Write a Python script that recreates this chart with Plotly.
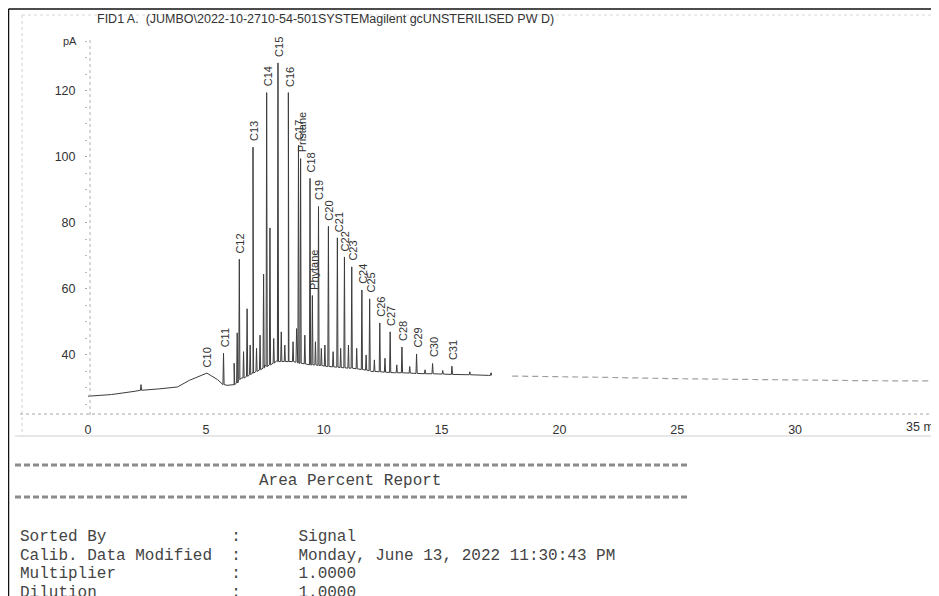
import plotly.graph_objects as go

# ---------------- data ----------------
# baseline (time in min, signal in pA)
base_t = [0, 1, 2, 2.2, 3, 3.8, 4.3, 5.0, 5.5, 5.9, 6.2, 6.5, 7.0, 7.5, 8.0, 8.5, 9.0,
          10, 11, 12, 13, 14, 15, 16, 17, 18, 20, 22, 25, 28, 30, 33, 36.1]
base_v = [27.5, 28, 29, 29.3, 29.7, 30.3, 32.3, 34.5, 32.5, 30.8, 31.0, 33, 35, 37, 38.2, 38, 37.5,
          36.5, 36, 35, 34.6, 34.4, 34.2, 34, 33.8, 33.6, 33.5, 33.2, 32.8, 32.5, 32.3, 32.2, 32.1]

# labelled peaks: name, retention time, apex, foot
lab_names = ["C10", "C11", "C12", "C13", "C14", "C15", "C16", "C17", "Pristane", "C18",
             "Phytane", "C19", "C20", "C21", "C22", "C23", "C24", "C25", "C26", "C27",
             "C28", "C29", "C30", "C31"]
lab_t = [5.02, 5.75, 6.42, 7.00, 7.58, 8.06, 8.50, 8.93, 9.02, 9.42,
         9.52, 9.78, 10.20, 10.58, 10.88, 11.19, 11.62, 11.95, 12.38, 12.82,
         13.32, 13.94, 14.62, 15.44]
lab_apex = [34.5, 40.5, 69, 103, 119.5, 128.5, 119.5, 103.5, 99.5, 93.5,
            58, 85, 79, 75.5, 69.7, 66.7, 59.7, 57, 49.7, 47,
            42.4, 40.3, 37.4, 36.6]
lab_foot = [34.5, 31.0, 32.5, 34.5, 36.5, 38, 38, 37.5, 37.5, 37,
            37, 36.8, 36.5, 36.3, 36.1, 36, 35.6, 35.2, 34.9, 34.7,
            34.6, 34.4, 34.3, 34.1]

# unlabelled peaks: time, apex, foot
minor_t = [2.25, 6.20, 6.33, 6.60, 6.75, 6.88, 7.15, 7.30, 7.45, 7.72, 7.88, 8.20, 8.35,
           8.70, 8.85, 9.20, 9.65, 9.90, 10.05, 10.40, 10.72, 11.05, 11.40, 11.80, 12.15,
           12.60, 13.10, 13.65, 14.30, 15.05, 16.20, 17.10]
minor_apex = [31.0, 37.5, 46.7, 41, 54, 43, 42, 46, 64.5, 78.5, 45, 47, 43,
              44, 48, 46, 44, 42, 43, 41, 42, 43, 42, 40, 38.5,
              39, 37, 36.5, 35.5, 35.3, 34.9, 34.6]
minor_foot = [29.3, 31, 31.5, 33, 33.5, 34, 35, 35.5, 36, 37, 37.5, 38, 38,
              38, 37.8, 37.3, 37, 36.8, 36.6, 36.4, 36.2, 36, 35.8, 35.4, 35,
              34.8, 34.6, 34.5, 34.3, 34.2, 34, 33.8]

x_ticks = [0, 5, 10, 15, 20, 25, 30]
y_ticks = [40, 60, 80, 100, 120]

title_text = "FID1 A.  (JUMBO\\2022-10-2710-54-501SYSTEMagilent gcUNSTERILISED PW D)"
report_title = "Area Percent Report"
report_rows = [("Sorted By", "Signal"),
               ("Calib. Data Modified", "Monday, June 13, 2022 11:30:43 PM"),
               ("Multiplier", "1.0000"),
               ("Dilution", "1.0000")]

# ---------------- layout geometry (page pixels; page body has an 8px margin) ----------------
OFF = 8
W, H = 939 - OFF, 596 - OFF
L, R, T = 88 - OFF, 0, 40 - OFF
B = H - (415 - OFF)
PW, PH = W - L - R, H - T - B
PX_PER_MIN = 23.57
XMAX = PW / PX_PER_MIN
YMIN, YMAX = 21.8, 135.45


def px(x):
    return (min(max(x - OFF, 0.5), W) - L) / PW


def py(y):
    return (H - B - min(max(y - OFF, 0.5), H)) / PH


# ---------------- build trace ----------------
pts = list(zip(base_t, base_v))
w = 0.025
for t, a, f in list(zip(lab_t, lab_apex, lab_foot)) + list(zip(minor_t, minor_apex, minor_foot)):
    pts += [(t - w, f), (t, a), (t + w, f)]
pts.sort(key=lambda p: p[0])
main = [p for p in pts if p[0] <= 17.3]
tail = [p for p in pts if p[0] >= 17.3]

fig = go.Figure()
fig.add_trace(go.Scatter(x=[p[0] for p in main], y=[p[1] for p in main], mode="lines",
                         line=dict(color="#3c3c3c", width=1), hoverinfo="skip"))
fig.add_trace(go.Scatter(x=[p[0] for p in tail], y=[p[1] for p in tail], mode="lines",
                         line=dict(color="#a0a0a0", width=1.2, dash="6px,4px"), hoverinfo="skip"))

sans = "Liberation Sans, Arial"
ann = []
for n, t, a in zip(lab_names, lab_t, lab_apex):
    ann.append(dict(x=t, y=a, xref="x", yref="y", text=n, textangle=-90, showarrow=False,
                    xanchor="center", yanchor="bottom", yshift=4, xshift=1,
                    font=dict(family=sans, size=11, color="#333")))

ann.append(dict(x=px(95), y=py(19), xref="paper", yref="paper", text=title_text, showarrow=False,
                xanchor="left", yanchor="middle", font=dict(family=sans, size=12.5, color="#333")))
ann.append(dict(x=px(79), y=py(41), xref="paper", yref="paper", text="pA", showarrow=False,
                xanchor="right", yanchor="middle", font=dict(family=sans, size=11, color="#333")))
ann.append(dict(x=px(904), y=py(427), xref="paper", yref="paper", text="35 min", showarrow=False,
                xanchor="left", yanchor="middle", font=dict(family=sans, size=12.5, color="#333")))

mono = dict(family="Liberation Mono, Courier New, monospace", size=16, color="#444")
ann.append(dict(x=px(350), y=py(481), xref="paper", yref="paper", text=report_title,
                showarrow=False, xanchor="center", yanchor="middle", font=mono))
for i, (k, v) in enumerate(report_rows):
    s = f"{k:<22}:      {v}".replace(" ", "&nbsp;")
    ann.append(dict(x=px(18), y=py(537 + i * 18.5), xref="paper", yref="paper", text=s,
                    showarrow=False, xanchor="left", yanchor="middle", font=mono))

shapes = [
    # outer frame (black)
    dict(type="line", xref="paper", yref="paper", x0=px(6), x1=px(939), y0=py(9), y1=py(9),
         line=dict(color="#111", width=1.5)),
    dict(type="line", xref="paper", yref="paper", x0=px(6), x1=px(6), y0=py(9), y1=py(596),
         line=dict(color="#111", width=1.5)),
    # faint inner scan frame
    dict(type="line", xref="paper", yref="paper", x0=px(22), x1=px(22), y0=py(15), y1=py(436),
         line=dict(color="#d0d0d0", width=1, dash="dot")),
    dict(type="line", xref="paper", yref="paper", x0=px(22), x1=px(939), y0=py(15), y1=py(15),
         line=dict(color="#d8d8d8", width=1, dash="dot")),
    dict(type="line", xref="paper", yref="paper", x0=px(15), x1=px(939), y0=py(436), y1=py(436),
         line=dict(color="#cfcfcf", width=1)),
    # dotted axes
    dict(type="line", xref="paper", yref="paper", x0=px(90), x1=px(90), y0=py(40), y1=py(415),
         line=dict(color="#b0b0b0", width=1, dash="dot")),
    dict(type="line", xref="paper", yref="paper", x0=px(20), x1=px(939), y0=py(414), y1=py(414),
         line=dict(color="#a8a8a8", width=1, dash="dot")),
    # '=' separators of the report
    dict(type="line", xref="paper", yref="paper", x0=px(15), x1=px(690), y0=py(465), y1=py(465),
         line=dict(color="#8c8c8c", width=3, dash="6px,3px")),
    dict(type="line", xref="paper", yref="paper", x0=px(15), x1=px(690), y0=py(497), y1=py(497),
         line=dict(color="#8c8c8c", width=3, dash="6px,3px")),
]

fig.update_layout(
    width=W, height=H, margin=dict(l=L, r=R, t=T, b=B),
    paper_bgcolor="white", plot_bgcolor="white", showlegend=False,
    annotations=ann, shapes=shapes,
    xaxis=dict(range=[0, XMAX], tickvals=x_ticks, ticktext=[str(v) for v in x_ticks],
               showgrid=False, zeroline=False, showline=False, ticks="",
               ticklabelstandoff=5,
               tickfont=dict(family=sans, size=12.5, color="#333")),
    yaxis=dict(range=[YMIN, YMAX], tickvals=y_ticks, showgrid=False, zeroline=False,
               showline=False, ticks="outside", ticklen=2, tickcolor="#aaa",
               ticklabelstandoff=7,
               minor=dict(dtick=5, ticks="outside", ticklen=2, tickcolor="#bbb"),
               tickfont=dict(family=sans, size=12.5, color="#333")),
)

fig.write_html("out.html")
